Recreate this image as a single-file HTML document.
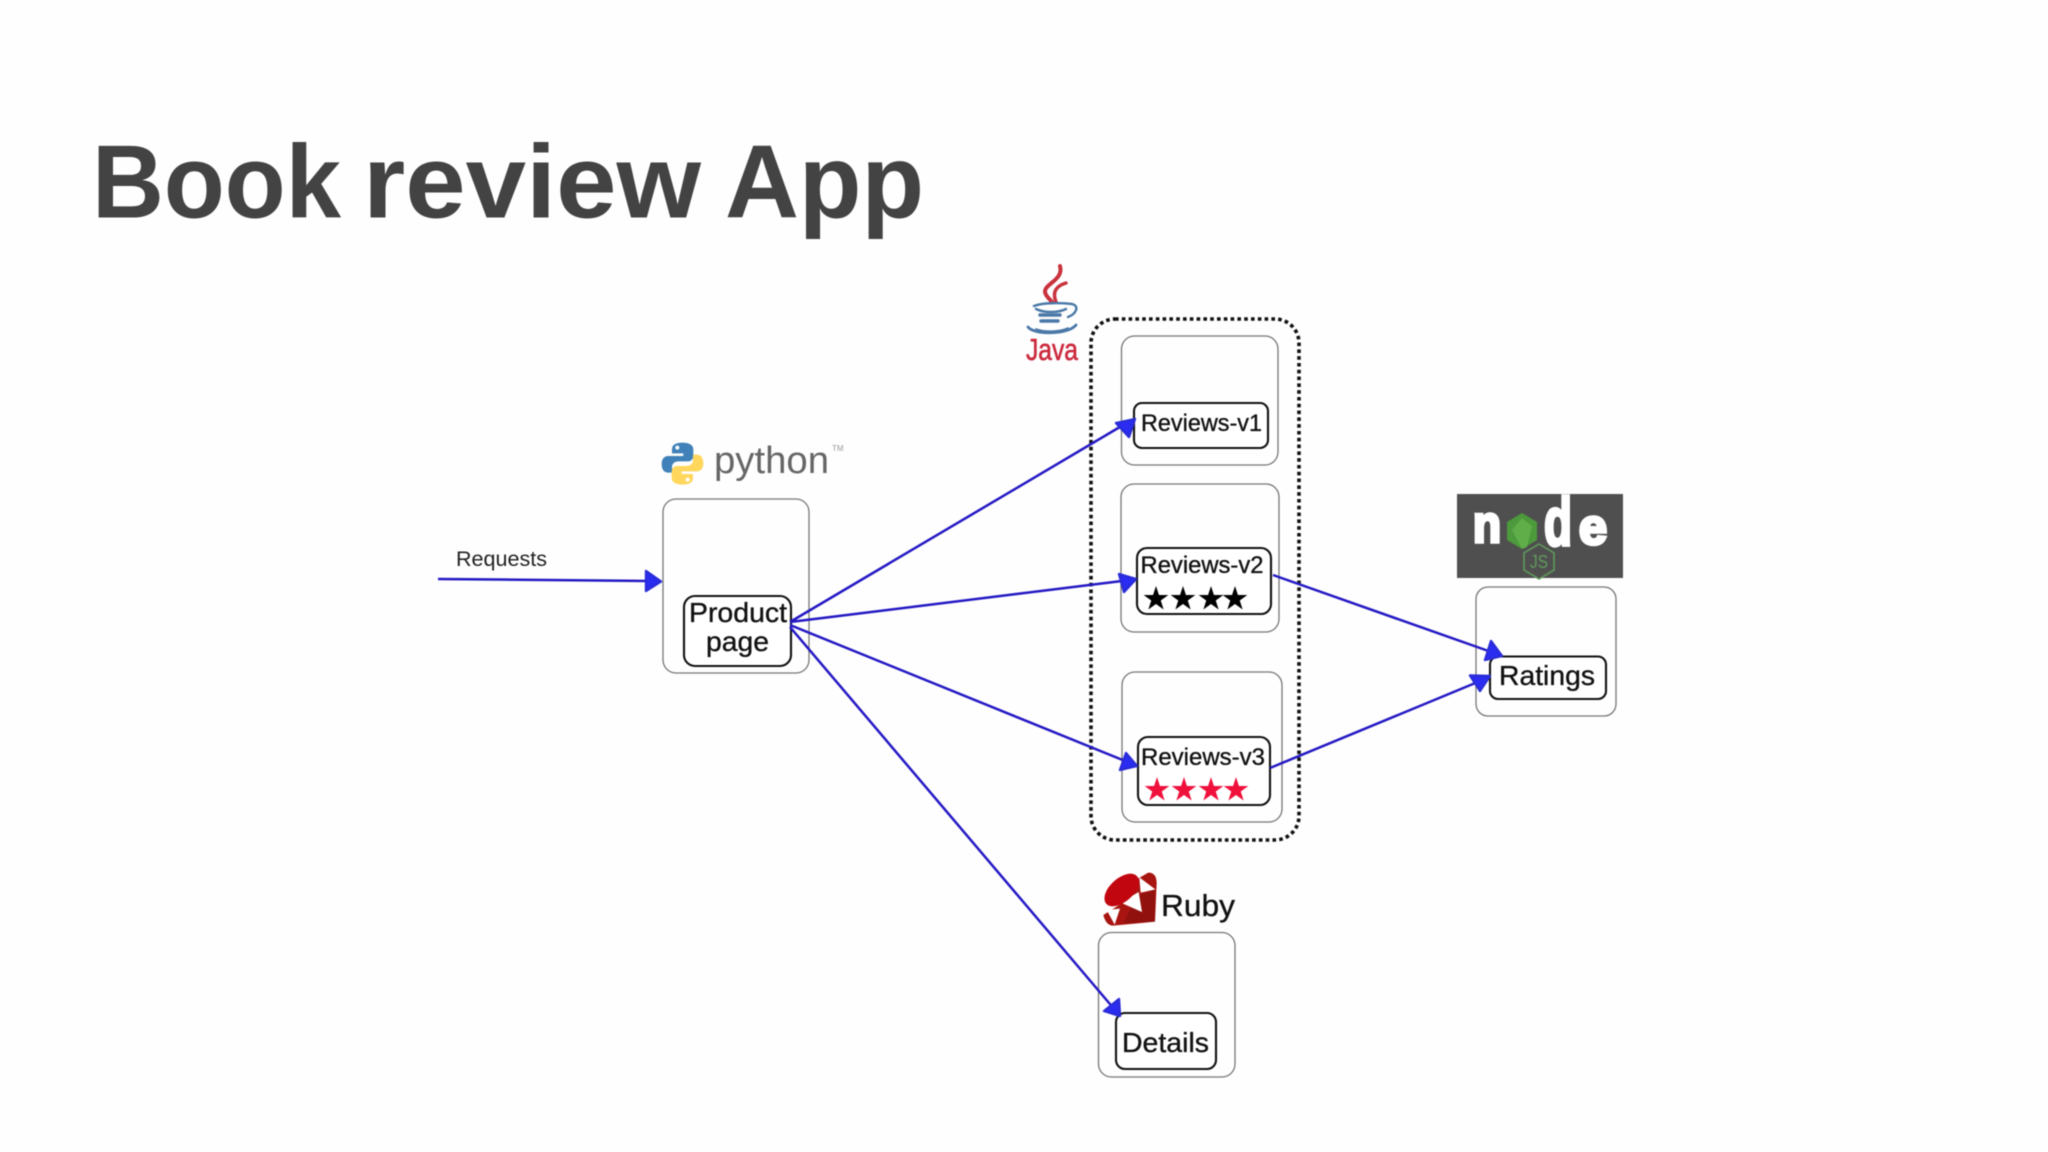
<!DOCTYPE html>
<html><head><meta charset="utf-8"><style>
html,body{margin:0;padding:0;background:#fefefe}
svg{display:block;filter:blur(.45px)}
text{font-family:"Liberation Sans",sans-serif}
.o{fill:none;stroke:#777;stroke-width:1.3}
.i{fill:#fff;stroke:#111;stroke-width:2.1}
.l{stroke:#2418c4;stroke-width:2.5;fill:none}
.a{fill:#2a2cf2;stroke:#2a2cd8;stroke-width:2.4;stroke-linejoin:round}
.t{fill:#111;stroke:#111;stroke-width:.35}
</style></head><body>
<svg width="2048" height="1152" viewBox="0 0 2048 1152" xmlns="http://www.w3.org/2000/svg">
<defs><polygon id="s" points="0,-13 2.94,-4.05 12.36,-4.02 4.76,1.55 7.64,10.52 0,5 -7.64,10.52 -4.76,1.55 -12.36,-4.02 -2.94,-4.05"/></defs>
<rect width="2048" height="1152" fill="#fefefe"/>

<g font-size="104" font-weight="700" fill="#434343">
<text x="92" y="217.5" textLength="249" lengthAdjust="spacingAndGlyphs">Book</text>
<text x="363" y="217.5" textLength="338" lengthAdjust="spacingAndGlyphs">review</text>
<text x="725" y="217.5" textLength="199" lengthAdjust="spacingAndGlyphs">App</text>
</g>

<rect x="1091" y="319" width="208" height="521" rx="24" fill="none" stroke="#111" stroke-width="3.6" stroke-dasharray="3.6 3.2"/>

<rect class="o" x="663" y="499" width="146" height="174" rx="13"/>
<rect class="o" x="1121.5" y="336" width="156.5" height="129" rx="13"/>
<rect class="o" x="1121" y="484" width="158" height="148" rx="13"/>
<rect class="o" x="1122" y="672" width="160" height="150" rx="13"/>
<rect class="o" x="1476" y="587" width="140" height="129" rx="12"/>
<rect class="o" x="1098.5" y="932.5" width="136.5" height="144.5" rx="13"/>

<rect class="i" x="684" y="596" width="107" height="70" rx="11"/>
<rect class="i" x="1134" y="403" width="134" height="45" rx="8"/>
<rect class="i" x="1137" y="548" width="134" height="66" rx="10"/>
<rect class="i" x="1138" y="737" width="132" height="68" rx="10"/>
<rect class="i" x="1490" y="656.5" width="116" height="42.5" rx="8"/>
<rect class="i" x="1116" y="1013" width="100" height="56" rx="9"/>

<text class="t" x="689" y="622" font-size="28" textLength="98" lengthAdjust="spacingAndGlyphs">Product</text>
<text class="t" x="706" y="651" font-size="28" textLength="63" lengthAdjust="spacingAndGlyphs">page</text>
<text class="t" x="1141" y="431" font-size="24" textLength="121" lengthAdjust="spacingAndGlyphs">Reviews-v1</text>
<text class="t" x="1140.5" y="573" font-size="24" textLength="123" lengthAdjust="spacingAndGlyphs">Reviews-v2</text>
<text class="t" x="1141" y="765" font-size="24" textLength="124" lengthAdjust="spacingAndGlyphs">Reviews-v3</text>
<text class="t" x="1499" y="685" font-size="28" textLength="96" lengthAdjust="spacingAndGlyphs">Ratings</text>
<text class="t" x="1122" y="1052" font-size="28" textLength="87" lengthAdjust="spacingAndGlyphs">Details</text>
<text class="t" x="1161" y="916" font-size="31" textLength="74" lengthAdjust="spacingAndGlyphs">Ruby</text>
<text x="456" y="566" font-size="21" fill="#222" textLength="91" lengthAdjust="spacingAndGlyphs">Requests</text>

<g fill="#000"><use href="#s" x="1156" y="599"/><use href="#s" x="1183" y="599"/><use href="#s" x="1211" y="599"/><use href="#s" x="1235" y="599"/></g>
<g fill="#f0103c"><use href="#s" x="1157" y="790"/><use href="#s" x="1184" y="790"/><use href="#s" x="1211" y="790"/><use href="#s" x="1236" y="790"/></g>

<line class="l" x1="438" y1="579" x2="650" y2="581"/>
<line class="l" x1="790" y1="622" x2="1130" y2="421"/>
<line class="l" x1="790" y1="622" x2="1130" y2="580"/>
<line class="l" x1="790" y1="625" x2="1130" y2="763"/>
<line class="l" x1="790" y1="627" x2="1115" y2="1010"/>
<line class="l" x1="1273" y1="575" x2="1497" y2="654"/>
<line class="l" x1="1270" y1="768" x2="1485" y2="679"/>

<polygon class="a" points="661,581.5 646,571 646,591"/>
<polygon class="a" points="1135,419 1116,423 1129,437"/>
<polygon class="a" points="1136,579 1119,574 1124,592"/>
<polygon class="a" points="1137,766 1126,753 1120,770"/>
<polygon class="a" points="1120,1016 1104,1011 1119,999"/>
<polygon class="a" points="1502,656 1491,641 1485,660"/>
<polygon class="a" points="1490,676 1470,675.5 1480,691"/>

<!-- Python logo -->
<g transform="translate(640,420) scale(0.3333)">
<path fill="#3f81b8" d="M128,68 C105,68 96,76 96,88 V100 H130 V108 H85 C72,108 65,118 65,132 C65,148 72,158 85,158 H96 V142 C96,130 104,124 116,124 H144 C154,124 160,116 160,108 V88 C160,76 148,68 128,68 Z"/>
<circle cx="112" cy="83" r="6" fill="#fff"/>
<g transform="rotate(180 127.5 131)">
<path fill="#ffd75c" d="M128,68 C105,68 96,76 96,88 V100 H130 V108 H85 C72,108 65,118 65,132 C65,148 72,158 85,158 H96 V142 C96,130 104,124 116,124 H144 C154,124 160,116 160,108 V88 C160,76 148,68 128,68 Z"/>
<circle cx="112" cy="83" r="6" fill="#fff"/>
</g></g>
<text x="714" y="473" font-size="38" fill="#666" textLength="115" lengthAdjust="spacingAndGlyphs">python</text>
<text x="832" y="451" font-size="8" fill="#999">TM</text>

<!-- Java logo -->
<g fill="none" stroke-linecap="round">
<path d="M1060,266 C1064,280 1044,284 1045,292 C1046,297 1050,299 1052,302" stroke="#c9323c" stroke-width="4"/>
<path d="M1066,283 C1056,286 1052,292 1056,302" stroke="#c9323c" stroke-width="3.5"/>
<path d="M1034,306 C1044,302 1064,303 1072,304 C1080,306 1076,314 1068,317" stroke="#4a78a8" stroke-width="2.4"/>
<path d="M1036,309 C1044,313 1058,313 1066,309" stroke="#4a78a8" stroke-width="2.4"/>
<path d="M1040,315 H1060" stroke="#4a78a8" stroke-width="3.4"/>
<path d="M1041,321 H1058" stroke="#4a78a8" stroke-width="3.4"/>
<path d="M1028,327 C1034,335 1068,335 1076,325" stroke="#4a78a8" stroke-width="2.8"/>
<path d="M1036,329 C1044,332 1060,332 1068,328" stroke="#4a78a8" stroke-width="1.6"/>
</g>
<text x="1026" y="360" font-size="31" fill="#cc2a3e" stroke="#cc2a3e" stroke-width=".6" textLength="52" lengthAdjust="spacingAndGlyphs">Java</text>

<!-- Node logo -->
<rect x="1457" y="494" width="166" height="84" fill="#4f4f4f"/>
<g fill="#fff" font-weight="700" stroke="#fff" stroke-width="3.5" stroke-linejoin="miter">
<text x="1473" y="542" font-size="52" textLength="28" lengthAdjust="spacingAndGlyphs">n</text>
<text x="1544" y="545" font-size="68" textLength="28" lengthAdjust="spacingAndGlyphs">d</text>
<text x="1579" y="544" font-size="50" textLength="28" lengthAdjust="spacingAndGlyphs">e</text>
</g>
<polygon points="1522,513 1537,522 1537,540 1522,549 1507,540 1507,522" fill="#4c9a3c"/>
<polygon points="1522,518 1532,526 1527,547 1522,549 1512,530" fill="#5fae4a"/>
<polygon points="1539,544 1554,553 1554,570 1539,579 1524,570 1524,553" fill="none" stroke="#5f9a5a" stroke-width="1.6"/>
<text x="1530" y="568" font-size="18" fill="#5f9a5a" textLength="18" lengthAdjust="spacingAndGlyphs">JS</text>

<!-- Ruby logo -->
<g transform="translate(1080,860) scale(0.3333)">
<path fill="#a81410" d="M70,165 L125,130 L175,55 L205,38 Q230,38 230,70 L225,185 L100,197 Q78,197 70,165 Z"/>
<path fill="#7e0f0c" d="M170,108 L225,90 L225,185 L130,190 Z" opacity=".55"/>
<polygon fill="#fff" points="178,52 226,88 182,98"/>
<polygon fill="#fff" points="122,128 176,96 186,156"/>
<polygon fill="#fff" points="80,150 120,146 104,194"/>
<ellipse cx="125" cy="90" rx="62" ry="35" fill="#c20610" transform="rotate(-42 125 90)"/>
</g>
</svg>
</body></html>
